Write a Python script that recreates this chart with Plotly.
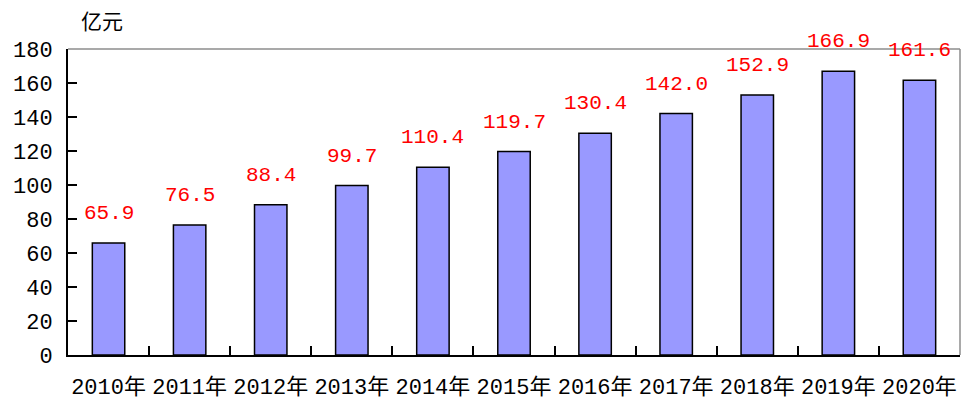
import plotly.graph_objects as go

years = ["2010年", "2011年", "2012年", "2013年", "2014年", "2015年",
         "2016年", "2017年", "2018年", "2019年", "2020年"]
values = [65.9, 76.5, 88.4, 99.7, 110.4, 119.7, 130.4, 142.0, 152.9, 166.9, 161.6]
y_ticks = [0, 20, 40, 60, 80, 100, 120, 140, 160, 180]
unit_label = "亿元"

fig = go.Figure()
fig.add_trace(go.Bar(
    x=years, y=values,
    marker=dict(color="#9999FF", line=dict(color="#000000", width=1.5)),
    width=0.4,
    hoverinfo="x+y",
))

for yr, v in zip(years, values):
    fig.add_annotation(
        x=yr, y=v, text=f"{v:.1f}", showarrow=False,
        yanchor="bottom", yshift=16,
        font=dict(family="Liberation Mono, Noto Sans CJK SC", size=21, color="#FF0000"),
    )

fig.add_annotation(
    xref="paper", yref="paper", x=0.012, y=1.0, yshift=29,
    text=unit_label, showarrow=False, xanchor="left", yanchor="middle",
    font=dict(family="Noto Sans CJK SC", size=21, color="#000000"),
)

# top and right frame lines (gray)
fig.add_shape(type="line", xref="paper", yref="paper", x0=0, y0=1, x1=1, y1=1,
              line=dict(color="#8c8c8c", width=1.5), layer="above")
fig.add_shape(type="line", xref="paper", yref="paper", x0=1, y0=0, x1=1, y1=1,
              line=dict(color="#8c8c8c", width=1.5), layer="above")

fig.update_layout(
    width=962, height=403,
    margin=dict(l=68, r=2, t=49, b=48, autoexpand=False),
    paper_bgcolor="white", plot_bgcolor="white",
    showlegend=False,
    font=dict(family="Liberation Mono, Noto Sans CJK SC", color="#000000"),
)
fig.update_xaxes(
    type="category", showline=True, linecolor="#000000", linewidth=2,
    ticks="inside", tickson="boundaries", ticklen=9, tickcolor="#000000", tickwidth=1.5,
    showgrid=False, tickangle=0, automargin=False,
    tickfont=dict(size=22, family="Liberation Mono, Noto Sans CJK SC"),
    ticklabelstandoff=11,
)
fig.update_yaxes(
    range=[0, 180], tickvals=y_ticks, showline=True, linecolor="#000000", linewidth=2,
    ticks="inside", ticklen=9, tickcolor="#000000", tickwidth=1.5,
    showgrid=False, zeroline=False, automargin=False,
    tickfont=dict(size=22, family="Liberation Mono, Noto Sans CJK SC"),
    ticklabelstandoff=9,
)

fig.write_html("out.html", config={"displayModeBar": False},
               post_script="document.body.style.margin='0';document.body.style.overflow='hidden';")
